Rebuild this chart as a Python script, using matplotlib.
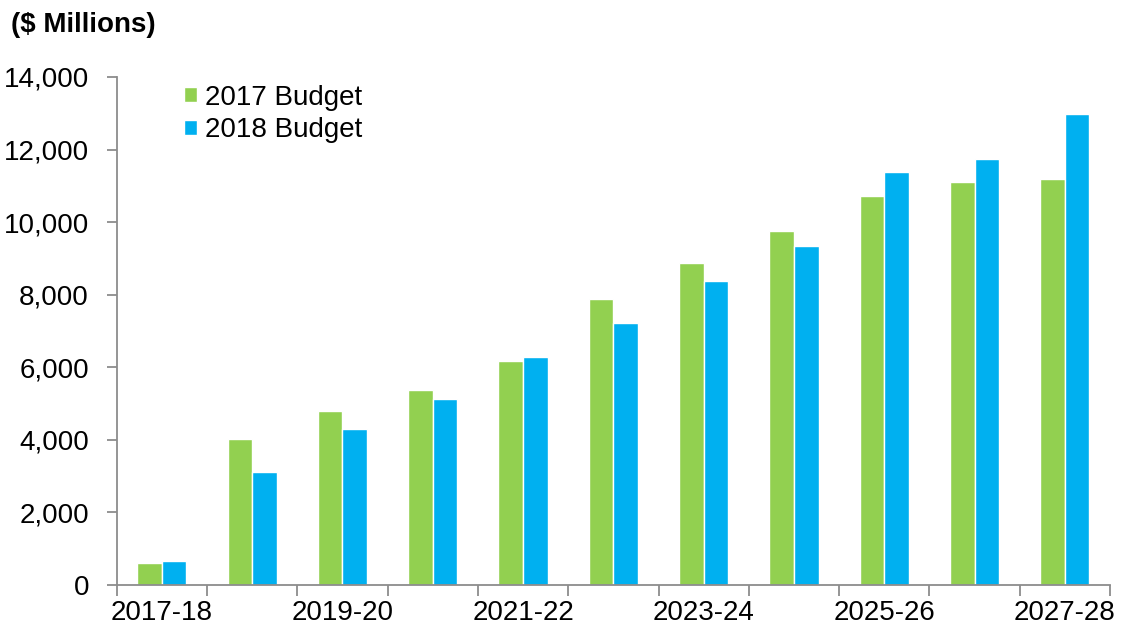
import numpy as np
import matplotlib
matplotlib.use("Agg")
import matplotlib.pyplot as plt
from matplotlib.ticker import FuncFormatter, FixedLocator

plt.rcParams["font.family"] = ["Liberation Sans", "DejaVu Sans"]

years = ["2017-18", "2018-19", "2019-20", "2020-21", "2021-22", "2022-23",
         "2023-24", "2024-25", "2025-26", "2026-27", "2027-28"]
budget_2017 = [610, 4010, 4800, 5370, 6160, 7880, 8860, 9750, 10720, 11110, 11200]
budget_2018 = [650, 3120, 4290, 5120, 6280, 7215, 8390, 9330, 11390, 11730, 12970]
series_names = ["2017 Budget", "2018 Budget"]

green = "#92D050"
blue = "#00B0F0"
axis_grey = "#8C8C8C"
fs = 20

fig = plt.figure(figsize=(11.21, 6.31), dpi=100)
ax = fig.add_axes([0.1041, 0.0729, 0.9902 - 0.1041, 0.878 - 0.0729])

x = np.arange(len(years))
w = 0.272
ax.bar(x - w / 2, budget_2017, width=w, color=green, edgecolor="white",
       linewidth=1.0, label=series_names[0])
ax.bar(x + w / 2, budget_2018, width=w, color=blue, edgecolor="white",
       linewidth=1.0, label=series_names[1])

ax.set_xlim(-0.5, len(years) - 0.5)
ax.set_ylim(0, 14000)
ax.set_yticks(np.arange(0, 14001, 2000))
ax.yaxis.set_major_formatter(FuncFormatter(lambda v, p: f"{int(v):,}"))

# labels on every other year, tick marks at the category boundaries
ax.set_xticks(x[::2])
ax.set_xticklabels(years[::2])
ax.xaxis.set_minor_locator(FixedLocator(np.arange(-0.5, len(years), 1.0)))
ax.tick_params(axis="x", which="major", length=0, pad=11, labelsize=fs)
ax.tick_params(axis="x", which="minor", length=8, width=1.3, color=axis_grey,
               direction="out")
ax.tick_params(axis="y", length=7, width=1.3, color=axis_grey, pad=13,
               labelsize=fs, direction="out")

for side in ["top", "right"]:
    ax.spines[side].set_visible(False)
for side in ["left", "bottom"]:
    ax.spines[side].set_color(axis_grey)
    ax.spines[side].set_linewidth(1.3)

ax.legend(loc="upper left", bbox_to_anchor=(0.068, 0.985), frameon=False,
          fontsize=fs, handlelength=0.45, handleheight=0.45,
          handletextpad=0.3, labelspacing=0.24, borderpad=0,
          borderaxespad=0)

fig.text(11 / 1121, 1 - 25 / 631, "($ Millions)", fontsize=fs,
         fontweight="bold", va="center", ha="left")

fig.savefig("out.png", dpi=100)
